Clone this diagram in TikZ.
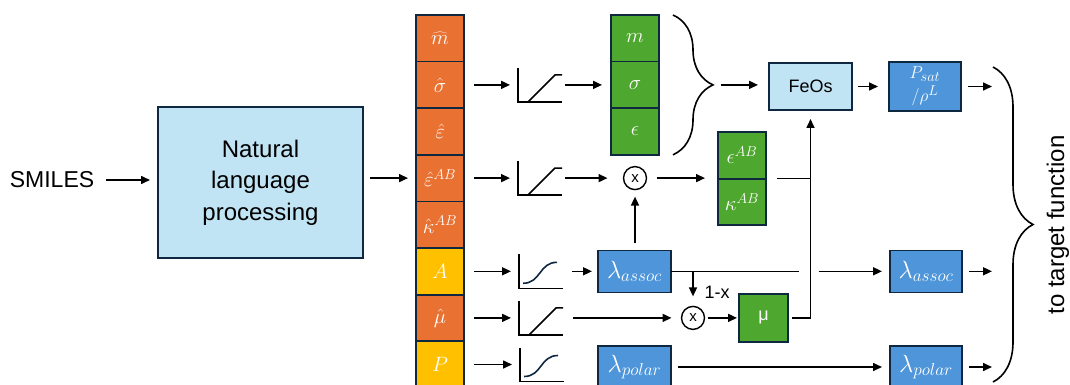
\documentclass[tikz,border=0pt]{standalone}
\usepackage{fontspec}
\setmainfont{Liberation Sans}
\usetikzlibrary{arrows.meta, positioning, calc, decorations.pathreplacing}
\definecolor{nlpblue}{RGB}{193, 228, 245}
\definecolor{boxblue}{RGB}{78, 149, 217}
\definecolor{parorange}{RGB}{233, 113, 50}
\definecolor{paryellow}{RGB}{255, 192, 0}
\definecolor{pargreen}{RGB}{78, 167, 46}
\definecolor{edgenavy}{RGB}{14, 40, 65}

\begin{document}
\begin{tikzpicture}[x=1pt, y=-1pt,
  every node/.style={inner sep=0pt, outer sep=0pt},
  cell/.style={draw=edgenavy, line width=1.8pt, minimum width=48pt, minimum height=46.6pt, text=white, font=\fontsize{22}{26}\selectfont},
  ocell/.style={cell, fill=parorange},
  ycell/.style={cell, fill=paryellow},
  gcell/.style={cell, fill=pargreen},
  bbox/.style={draw=edgenavy, line width=1.4pt, fill=boxblue, text=white, minimum width=73pt, minimum height=42pt, font=\fontsize{24}{28}\selectfont},
  lbox/.style={draw=edgenavy, line width=1.4pt, fill=nlpblue},
  mult/.style={circle, draw=black, line width=1.4pt, minimum size=23pt, font=\fontsize{15}{18}\selectfont},
  act/.style={minimum width=44pt, minimum height=34pt},
  axis/.style={line width=1.6pt},
  ln/.style={line width=1.6pt},
  arr/.style={ln, -{Triangle[length=9pt, width=8pt]}, shorten <=6pt, shorten >=8pt},
  brc/.style={ln, decorate, decoration={brace, amplitude=40pt}},
]
  \useasboundingbox (0,0) rectangle (1070,385);

  % Input and language model
  \node[font=\fontsize{23}{28}\selectfont] (smiles) at (52,180) {SMILES};
  \node[lbox, minimum width=205pt, minimum height=151pt, align=center, font=\fontsize{24}{31.5}\selectfont] (nlp) at (260.5,182.5) {Natural\\language\\processing};

  % Raw outputs
  \node[ocell] (mh) at (440,38.3) {$\widehat{m}$};
  \node[ocell, below=0pt of mh] (sh) {$\hat{\sigma}$};
  \node[ocell, below=0pt of sh] (eh) {$\hat{\varepsilon}$};
  \node[ocell, below=0pt of eh] (eabh) {$\hat{\varepsilon}^{AB}$};
  \node[ocell, below=0pt of eabh] (kabh) {$\hat{\kappa}^{AB}$};
  \node[ycell, below=0pt of kabh] (ah) {$A$};
  \node[ocell, below=0pt of ah] (muh) {$\hat{\mu}$};
  \node[ycell, below=0pt of muh] (ph) {$P$};

  % Activations
  \node[act] (relu1) at (540,84.9) {};
  \node[act] (relu2) at (540,178.1) {};
  \node[act] (sig1) at (541,271.3) {};
  \node[act] (relu3) at (541,317.9) {};
  \node[act] (sig2) at (542,364.5) {};
  \foreach \a in {relu1,relu2,relu3,sig1,sig2}
    \draw[axis] (\a.north west) |- (\a.south east);
  \foreach \a in {relu1,relu2,relu3}
    \draw[axis] ([xshift=10pt]\a.south west) -- ([xshift=-7pt,yshift=-7pt]\a.north east) -- ([yshift=-7pt]\a.north east);
  \foreach \a in {sig1,sig2}
    \draw[axis, edgenavy] ([xshift=4pt,yshift=5pt]\a.south west) .. controls +(18,0) and +(-18,0) .. ([xshift=-6pt,yshift=-8pt]\a.north east);

  % PC-SAFT parameters
  \node[gcell] (gm) at (635,38.3) {$m$};
  \node[gcell, below=0pt of gm] (gs) {$\sigma$};
  \node[gcell, below=0pt of gs] (ge) {$\epsilon$};
  \node[gcell] (geab) at (742,155.3) {$\epsilon^{AB}$};
  \node[gcell, below=0pt of geab] (gkab) {$\kappa^{AB}$};
  \node[mult] (mult1) at (635,178.1) {x};
  \node[mult] (mult2) at (693,317.9) {x};
  \node[bbox] (assoc1) at (634.5,271.3) {$\lambda_{assoc}$};
  \node[bbox] (polar1) at (634.5,367) {$\lambda_{polar}$};
  \node[gcell, minimum width=49pt, minimum height=48pt, font=\fontsize{18}{22}\selectfont] (mu) at (763.5,317.9) {μ};
  \node[font=\fontsize{18}{22}\selectfont] (onemx) at (717,292) {1-x};

  % Equation of state and targets
  \node[lbox, minimum width=83pt, minimum height=47pt, font=\fontsize{18}{22}\selectfont] (feos) at (810.5,86.5) {FeOs};
  \node[bbox, minimum width=72pt, minimum height=49pt, align=center, font=\fontsize{19}{23}\selectfont] (psat) at (925,86.5) {$P_{sat}$\\$/\rho^{L}$};
  \node[bbox, minimum width=72pt] (assoc2) at (926,271.3) {$\lambda_{assoc}$};
  \node[bbox, minimum width=72pt] (polar2) at (926,367) {$\lambda_{polar}$};
  \node[rotate=90, font=\fontsize{24}{28}\selectfont] (target) at (1058,225) {to target function};

  % Braces
  \coordinate (gtip) at ([xshift=54pt]gs.east);
  \coordinate (btop) at (993,67);
  \coordinate (bbot) at (993,382);
  \draw[brc] ([xshift=14pt]gm.north east) -- ([xshift=14pt]ge.south east);
  \draw[brc] (btop) -- (bbot);

  % Connections
  \draw[arr, shorten <=12pt] (smiles.east) -- (smiles.east -| nlp.west);
  \draw[arr, shorten <=7pt] (nlp.east |- eabh.west) -- (eabh.west);
  \foreach \c/\a in {sh/relu1, eabh/relu2, ah/sig1, muh/relu3, ph/sig2}
    \draw[arr, shorten <=10pt] (\c.east) -- (\c.east -| \a.west);
  \draw[arr, shorten <=3pt, shorten >=9pt] (relu1.east) -- (relu1.east -| gs.west);
  \draw[arr, shorten <=3pt, shorten >=16pt] (relu2.east) -- (mult1.west);
  \draw[arr, shorten <=10pt, shorten >=13pt] (mult1.east) -- (mult1 -| geab.south west);
  \draw[ln, shorten <=11pt] (gkab.north east) -- (feos.south |- gkab.north east);
  \draw[arr, shorten <=4pt, shorten >=9pt] (mu.east) -| (feos.south);
  \draw[arr, shorten <=8pt, shorten >=11pt] (gtip) -- (gtip -| feos.west);
  \draw[arr, shorten >=11pt] (feos.east) -- (feos.east -| psat.west);
  \foreach \b in {psat, assoc2, polar2}
    \draw[arr, shorten <=7pt, shorten >=1pt] (\b.east) -- (\b.east -| btop);
  \draw[arr, shorten <=9pt, shorten >=6pt] (sig1.east) -- (assoc1.west);
  \draw[arr, shorten <=7pt, shorten >=7pt] (assoc1.north -| mult1) -- (mult1.south);
  \draw[ln] (assoc1.east) -- ([xshift=-12pt]assoc1.east -| feos.south);
  \draw[arr, shorten <=0pt] ([xshift=8pt]assoc1.east -| feos.south) -- (assoc2.west);
  \draw[arr, shorten <=0pt, shorten >=10pt] (assoc1.east -| mult2) -- (mult2.north);
  \draw[arr, shorten <=10pt, shorten >=10pt] (relu3.east) -- (mult2.west);
  \draw[arr, shorten <=3pt, shorten >=2pt] (mult2.east) -- (mu.west);
  \draw[arr, shorten <=7pt] (polar1.east) -- (polar2.west);
\end{tikzpicture}
\end{document}
